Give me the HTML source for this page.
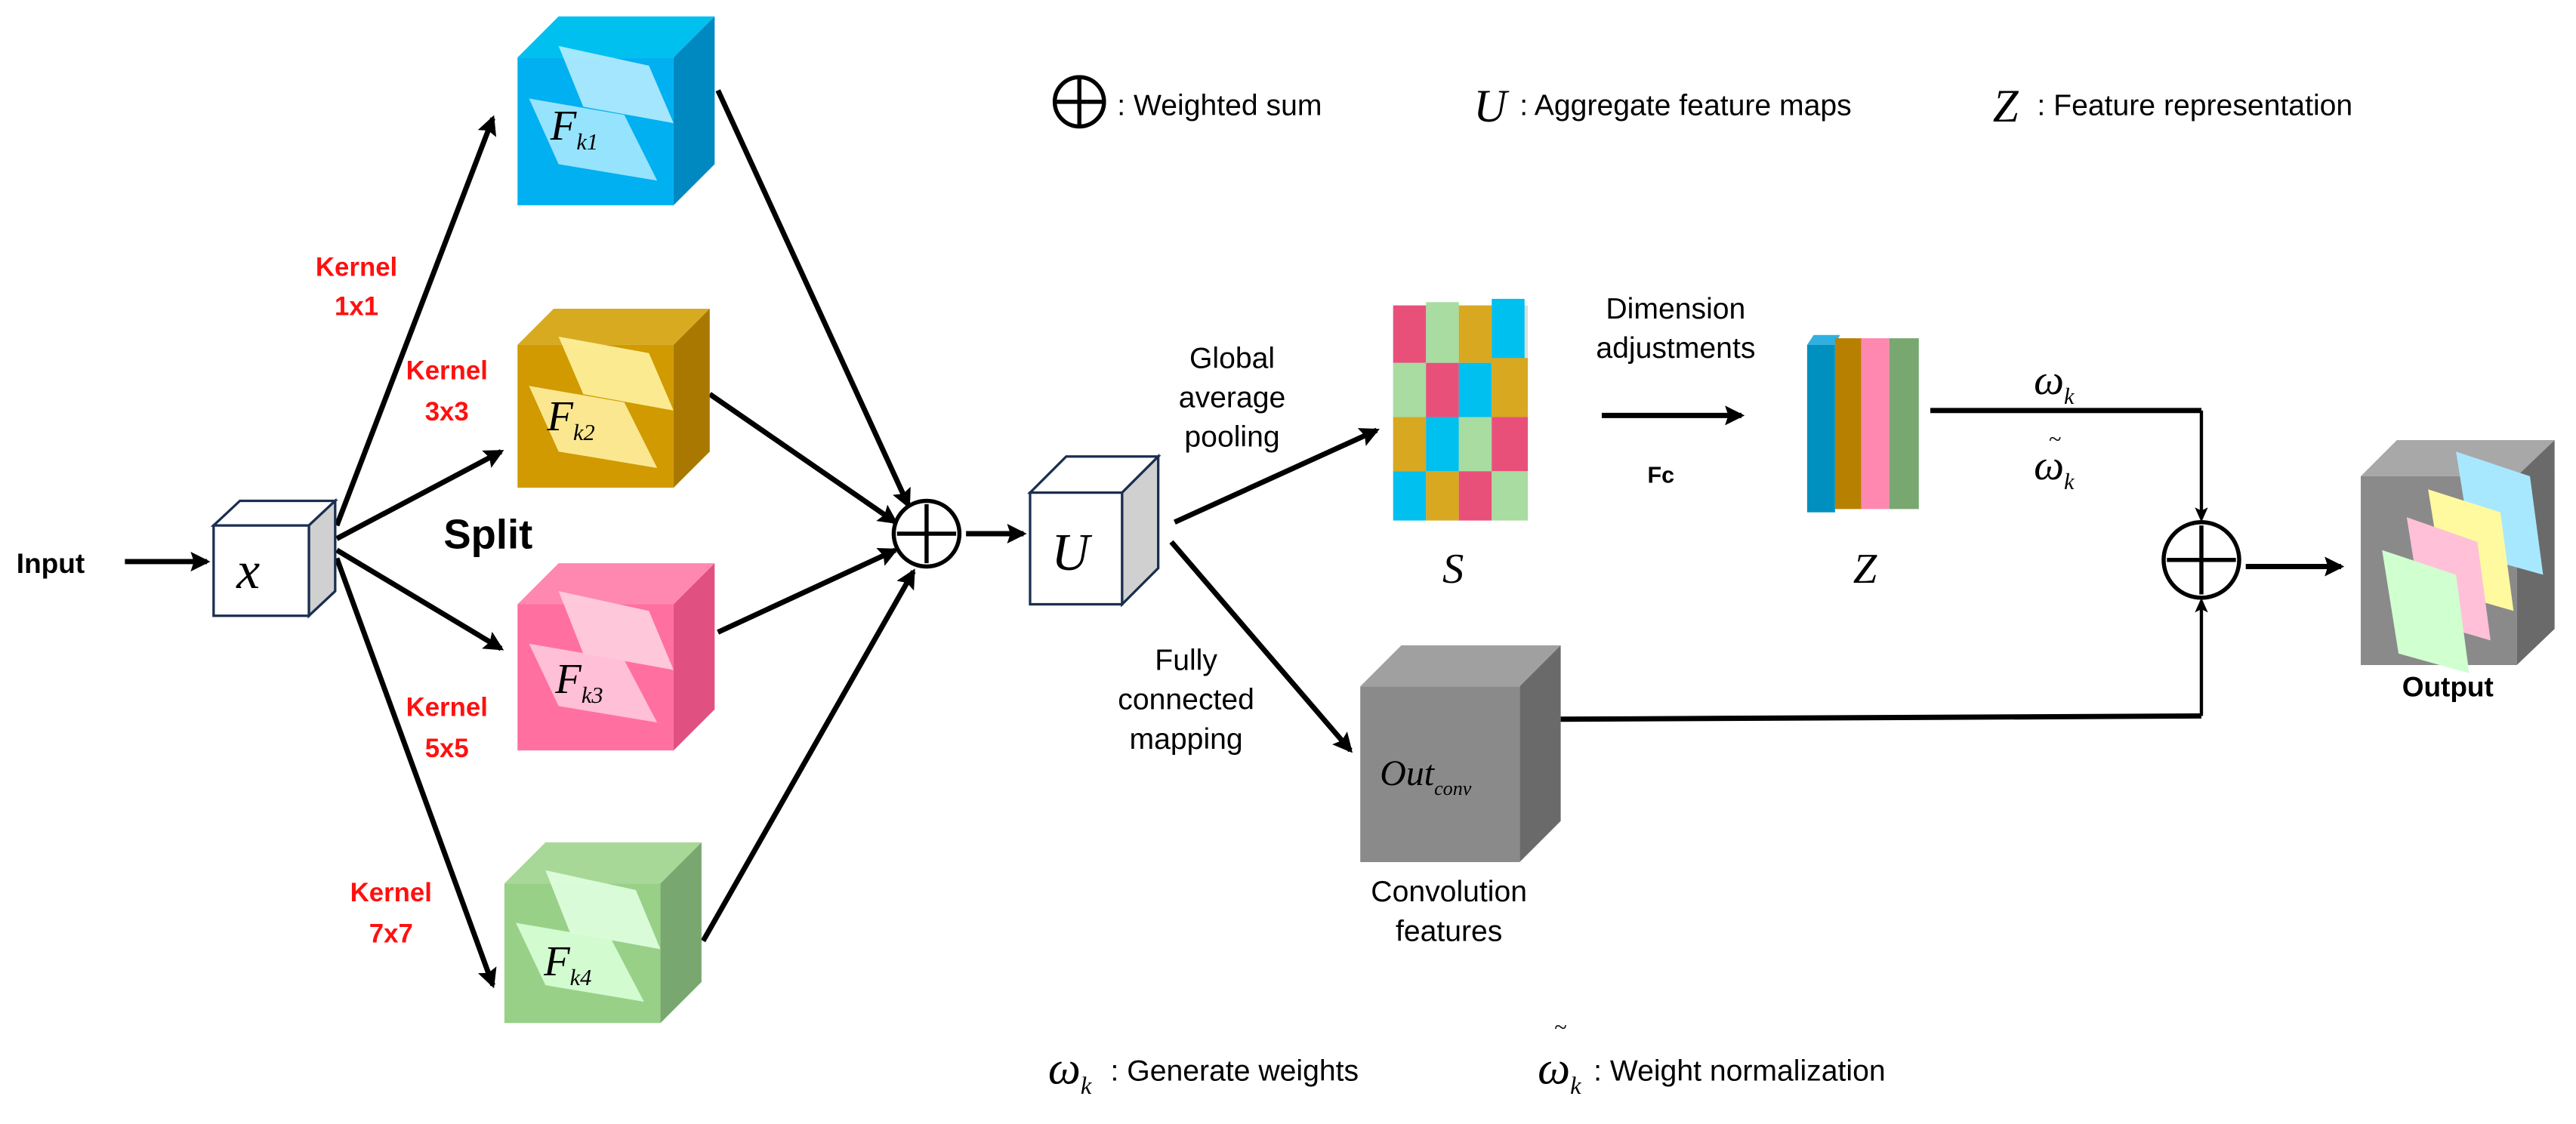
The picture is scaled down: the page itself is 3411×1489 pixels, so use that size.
<!DOCTYPE html>
<html><head><meta charset="utf-8"><style>html,body{margin:0;padding:0;background:#fff}svg{display:block}</style></head><body>
<svg width="3411" height="1489" viewBox="0 0 1568 684.5" xmlns="http://www.w3.org/2000/svg" font-family="Liberation Sans, sans-serif">
<defs>
<marker id="ah" markerWidth="10" markerHeight="10" refX="7" refY="4" orient="auto" markerUnits="userSpaceOnUse"><path d="M0,0 L9,4 L0,8 L2,4 Z" fill="#000"/></marker>
<marker id="ah2" markerWidth="14" markerHeight="14" refX="10" refY="6" orient="auto" markerUnits="userSpaceOnUse"><path d="M0,0 L12,6 L0,12 L2,6 Z" fill="#000"/></marker>
</defs>
<g stroke="#000" stroke-width="3.2" fill="none" marker-end="url(#ah2)">
<line x1="76" y1="342" x2="126" y2="342"/>
<line x1="205" y1="320" x2="300" y2="72"/>
<line x1="205" y1="328" x2="305" y2="275"/>
<line x1="205" y1="335" x2="305" y2="395"/>
<line x1="205" y1="340" x2="300" y2="600"/>
<line x1="437" y1="55" x2="553" y2="308"/>
<line x1="432" y1="240" x2="545" y2="318"/>
<line x1="437" y1="385" x2="545" y2="335"/>
<line x1="428" y1="573" x2="556" y2="348"/>
<line x1="588" y1="325" x2="623" y2="325"/>
<line x1="715" y1="318" x2="838" y2="262"/>
<line x1="713" y1="330" x2="822" y2="457"/>
<line x1="975" y1="253" x2="1060" y2="253"/>
<line x1="1367" y1="345" x2="1425" y2="345"/>
</g>
<g stroke="#000" stroke-width="3.2" fill="none">
<polyline points="1175,250 1340,250"/>
<polyline points="950,438 1340,436"/>
</g>
<g stroke="#000" stroke-width="2" fill="none" marker-end="url(#ah)">
<line x1="1340" y1="250" x2="1340" y2="316"/>
<line x1="1340" y1="436" x2="1340" y2="366"/>
</g>
<g>
<polygon points="315,35 340,10 435,10 410,35" fill="#00c0f0"/><polygon points="410,35 435,10 435,100 410,125" fill="#0088c0"/><rect x="315" y="35" width="95" height="90" fill="#00b0f0"/>
<polygon points="340,28 395,40 410,75 355,65" fill="#c0f0ff" opacity=".85"/><polygon points="322,60 380,70 400,110 340,100" fill="#b0ecff" opacity=".85"/>
<polygon points="315,210 337,188 432,188 410,210" fill="#d8aa20"/><polygon points="410,210 432,188 432,275 410,297" fill="#a87800"/><rect x="315" y="210" width="95" height="87" fill="#d09a00"/>
<polygon points="340,205 395,215 410,250 355,240" fill="#fff3a0" opacity=".9"/><polygon points="322,235 380,245 400,285 340,275" fill="#fff0a0" opacity=".9"/>
<polygon points="315,368 340,343 435,343 410,368" fill="#ff88b0"/><polygon points="410,368 435,343 435,432 410,457" fill="#e05080"/><rect x="315" y="368" width="95" height="89" fill="#ff6fa0"/>
<polygon points="340,360 395,372 410,408 355,398" fill="#ffd0e0" opacity=".9"/><polygon points="322,392 380,402 400,440 340,430" fill="#ffc8dc" opacity=".9"/>
<polygon points="307,538 332,513 427,513 402,538" fill="#a8d898"/><polygon points="402,538 427,513 427,598 402,623" fill="#78a870"/><rect x="307" y="538" width="95" height="85" fill="#98d088"/>
<polygon points="332,530 387,542 402,578 347,568" fill="#e0ffe0" opacity=".9"/><polygon points="314,562 372,572 392,610 332,600" fill="#d8ffd8" opacity=".9"/>
<polygon points="130,320 146,305 204,305 188,320" fill="#fff" stroke="#1a2f50" stroke-width="1.5"/><polygon points="188,320 204,305 204,360 188,375" fill="#d0d0d0" stroke="#1a2f50" stroke-width="1.5"/><rect x="130" y="320" width="58" height="55" fill="#fff" stroke="#1a2f50" stroke-width="1.5"/>
<polygon points="627,300 649,278 705,278 683,300" fill="#fff" stroke="#1a2f50" stroke-width="1.5"/><polygon points="683,300 705,278 705,346 683,368" fill="#d0d0d0" stroke="#1a2f50" stroke-width="1.5"/><rect x="627" y="300" width="56" height="68" fill="#fff" stroke="#1a2f50" stroke-width="1.5"/>
<polygon points="828,418 853,393 950,393 925,418" fill="#a0a0a0"/><polygon points="925,418 950,393 950,500 925,525" fill="#6a6a6a"/><rect x="828" y="418" width="97" height="107" fill="#8a8a8a"/>
<polygon points="1437,290 1459,268 1555,268 1532,290" fill="#a8a8a8"/><polygon points="1532,290 1555,268 1555,383 1532,405" fill="#6a6a6a"/><rect x="1437" y="290" width="95" height="115" fill="#8a8a8a"/>
<polygon points="1495,275 1540,290 1548,350 1505,338" fill="#a8e8ff"/>
<polygon points="1478,298 1522,312 1530,372 1488,360" fill="#fffaa0"/>
<polygon points="1465,315 1508,330 1516,390 1475,378" fill="#ffc0d8"/>
<polygon points="1450,335 1495,350 1503,410 1460,398" fill="#d0ffd0"/>
</g>
<g>
<rect x="848" y="186" width="82" height="130" fill="#ddd"/>
<rect x="848" y="186" width="20" height="35" fill="#e8507a"/><rect x="868" y="184" width="20" height="37" fill="#a8dca0"/><rect x="888" y="186" width="20" height="35" fill="#d8a820"/><rect x="908" y="182" width="20" height="39" fill="#00c0f0"/>
<rect x="848" y="221" width="20" height="33" fill="#a8dca0"/><rect x="868" y="221" width="20" height="33" fill="#e8507a"/><rect x="888" y="221" width="20" height="33" fill="#00c0f0"/><rect x="908" y="218" width="22" height="36" fill="#d8a820"/>
<rect x="848" y="254" width="20" height="33" fill="#d8a820"/><rect x="868" y="254" width="20" height="33" fill="#00c0f0"/><rect x="888" y="254" width="20" height="33" fill="#a8dca0"/><rect x="908" y="254" width="22" height="33" fill="#e8507a"/>
<rect x="848" y="287" width="20" height="30" fill="#00c0f0"/><rect x="868" y="287" width="20" height="30" fill="#d8a820"/><rect x="888" y="287" width="20" height="30" fill="#e8507a"/><rect x="908" y="287" width="22" height="30" fill="#a8dca0"/>
</g>
<g>
<polygon points="1100,210 1104,204 1120,204 1117,210" fill="#30b0e0"/><rect x="1100" y="210" width="17" height="102" fill="#0090c0"/>
<rect x="1117" y="206" width="16" height="104" fill="#b88000"/>
<rect x="1133" y="206" width="17" height="104" fill="#ff88b0"/>
<rect x="1150" y="206" width="18" height="104" fill="#78a870"/>
</g>
<g stroke="#000" stroke-width="2.5" fill="#fff">
<circle cx="564" cy="325" r="20"/><circle cx="1340" cy="341" r="23"/><circle cx="657" cy="62" r="15"/>
</g>
<g stroke="#000" stroke-width="2.5">
<line x1="546" y1="325" x2="582" y2="325"/><line x1="564" y1="307" x2="564" y2="343"/>
<line x1="1319" y1="341" x2="1361" y2="341"/><line x1="1340" y1="320" x2="1340" y2="362"/>
<line x1="643" y1="62" x2="671" y2="62"/><line x1="657" y1="48" x2="657" y2="76"/>
</g>
<g font-family="Liberation Serif, serif" font-style="italic" fill="#000">
<text x="144" y="358" font-size="32">x</text>
<text x="640" y="347" font-size="32">U</text>
<text x="335" y="85" font-size="26">F<tspan font-size="14" dy="6">k1</tspan></text>
<text x="333" y="262" font-size="26">F<tspan font-size="14" dy="6">k2</tspan></text>
<text x="338" y="422" font-size="26">F<tspan font-size="14" dy="6">k3</tspan></text>
<text x="331" y="594" font-size="26">F<tspan font-size="14" dy="6">k4</tspan></text>
<text x="878" y="355" font-size="26">S</text>
<text x="1128" y="355" font-size="26">Z</text>
<text x="840" y="478" font-size="22">Out<tspan font-size="12" dy="6">conv</tspan></text>
<text x="1238" y="240" font-size="26">ω<tspan font-size="14" dy="6">k</tspan></text>
<text x="1247" y="272" font-size="14">~</text>
<text x="1238" y="292" font-size="26">ω<tspan font-size="14" dy="6">k</tspan></text>
<text x="897" y="74" font-size="28">U</text>
<text x="1213" y="74" font-size="28">Z</text>
<text x="638" y="660" font-size="28">ω<tspan font-size="15" dy="6">k</tspan></text>
<text x="946" y="630" font-size="14">~</text>
<text x="936" y="660" font-size="28">ω<tspan font-size="15" dy="6">k</tspan></text>
</g>
<g fill="#000" font-size="18">
<text x="10" y="349" font-weight="bold" font-size="17">Input</text>
<text x="270" y="334" font-weight="bold" font-size="25">Split</text>
<text x="750" y="224" text-anchor="middle">Global</text>
<text x="750" y="248" text-anchor="middle">average</text>
<text x="750" y="272" text-anchor="middle">pooling</text>
<text x="1020" y="194" text-anchor="middle">Dimension</text>
<text x="1020" y="218" text-anchor="middle">adjustments</text>
<text x="1011" y="294" text-anchor="middle" font-weight="bold" font-size="14">Fc</text>
<text x="722" y="408" text-anchor="middle">Fully</text>
<text x="722" y="432" text-anchor="middle">connected</text>
<text x="722" y="456" text-anchor="middle">mapping</text>
<text x="882" y="549" text-anchor="middle">Convolution</text>
<text x="882" y="573" text-anchor="middle">features</text>
<text x="1490" y="424" text-anchor="middle" font-weight="bold" font-size="17">Output</text>
<text x="680" y="70">: Weighted sum</text>
<text x="925" y="70">: Aggregate feature maps</text>
<text x="1240" y="70">: Feature representation</text>
<text x="676" y="658" font-size="18">: Generate weights</text>
<text x="970" y="658">: Weight normalization</text>
</g>
<g fill="#ff1010" font-weight="bold" font-size="16" text-anchor="middle">
<text x="217" y="168">Kernel</text><text x="217" y="192">1x1</text>
<text x="272" y="231">Kernel</text><text x="272" y="256">3x3</text>
<text x="272" y="436">Kernel</text><text x="272" y="461">5x5</text>
<text x="238" y="549">Kernel</text><text x="238" y="574">7x7</text>
</g>
</svg>
</body></html>
